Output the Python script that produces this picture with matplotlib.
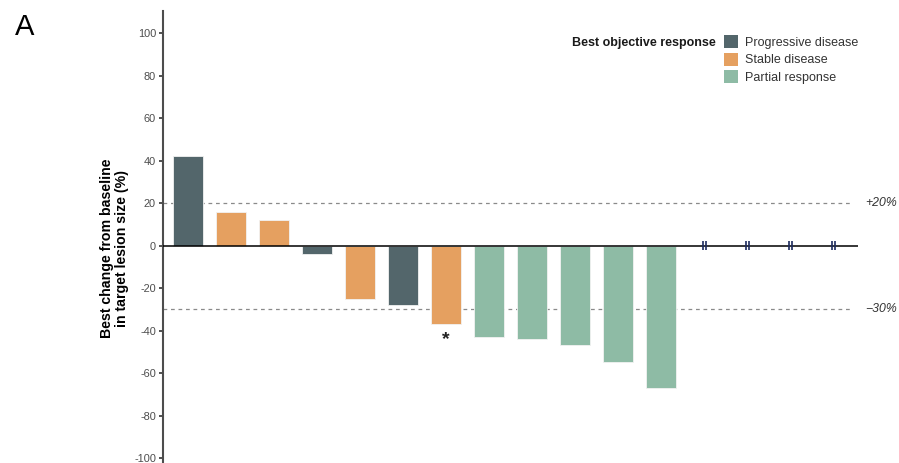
import matplotlib
matplotlib.use("Agg")
import matplotlib.pyplot as plt
from matplotlib.patches import Patch
import numpy as np

plt.rcParams['font.family'] = ['Liberation Sans', 'DejaVu Sans']

# Best change from baseline in target lesion size (%) per patient; None = not measurable
patients = list(range(1, 17))
best_change = [42, 16, 12, -4, -25, -28, -37, -43, -44, -47, -55, -67,
               None, None, None, None]
response = ['PD', 'SD', 'SD', 'PD', 'SD', 'PD', 'SD', 'PR', 'PR', 'PR', 'PR', 'PR',
            None, None, None, None]
flagged = [7]  # patient marked with an asterisk

categories = ['PD', 'SD', 'PR']
category_labels = ['Progressive disease', 'Stable disease', 'Partial response']
category_colors = {'PD': '#53666B', 'SD': '#E5A060', 'PR': '#8EBBA5'}

thresholds = [20, -30]
threshold_labels = ['+20%', '\u221230%']
y_ticks = [-100, -80, -60, -40, -20, 0, 20, 40, 60, 80, 100]

fig = plt.figure(figsize=(8.99, 4.63), dpi=100)
ax = fig.add_axes([163 / 899, 0, (858 - 163) / 899, 452 / 463])

# bars
for p, v, r in zip(patients, best_change, response):
    if v is None:
        continue
    ax.bar(p, v, width=0.7, color=category_colors[r], edgecolor='#f2f2f2',
           linewidth=0.6, zorder=2)

# break markers for patients without measurable change
for p, v in zip(patients, best_change):
    if v is None:
        for dx in (-0.035, 0.035):
            ax.plot([p + dx, p + dx], [-2.1, 2.1], color='#1c2b5e', lw=1.2,
                    solid_capstyle='butt', zorder=4)

# asterisk annotation
for p in flagged:
    v = best_change[p - 1]
    ax.text(p, v - 7.2, '*', ha='center', va='center', fontsize=14,
            fontweight='bold', color='#222222', zorder=4)

ax.axhline(0, color='black', lw=1.1, zorder=3)
for t, lab in zip(thresholds, threshold_labels):
    ax.axhline(t, color='#8a8a8a', lw=0.9, ls=(0, (3, 3)), zorder=1,
               xmax=(853 - 163) / (858 - 163))
    ax.text(16.58 + 7.5 / 43, t, lab, ha='left', va='center', fontsize=8.8,
            style='italic', color='#333333', clip_on=False)

ax.set_xlim(0.42, 16.58)
ax.set_ylim(-102.3, 110.4)
ax.set_yticks(y_ticks)
ax.set_yticklabels([str(t) for t in y_ticks])
ax.set_xticks([])
for s in ['top', 'right', 'bottom']:
    ax.spines[s].set_visible(False)
ax.spines['left'].set_color('#4d4d4d')
ax.spines['left'].set_linewidth(1.5)
ax.tick_params(axis='y', length=3, width=1.2, color='#333333', pad=2,
               labelsize=7.9, labelcolor='#4d4d4d')

ax.set_ylabel('Best change from baseline\nin target lesion size (%)',
              fontsize=10.2, fontweight='bold', linespacing=1.05)
ax.yaxis.set_label_coords((129 - 163) / 695, 0.5 - 11.5 / 452)

fig.text(15 / 899, 1 - 35 / 463, 'A', fontsize=21, va='baseline', ha='left')

# legend
handles = [Patch(facecolor=category_colors[c], edgecolor='none') for c in categories]
fig.legend(handles, category_labels, loc='upper left',
           bbox_to_anchor=(720.5 / 899, 1 - 31.5 / 463), frameon=False,
           fontsize=9, handlelength=1.12, handleheight=1.24,
           labelspacing=0.28, handletextpad=0.55, borderpad=0.3,
           borderaxespad=0, labelcolor='#333333')
fig.text(716 / 899, 1 - 43 / 463, 'Best objective response', ha='right',
         va='center', fontsize=9, fontweight='bold', color='#1a1a1a')

fig.savefig('out.png', dpi=100)
